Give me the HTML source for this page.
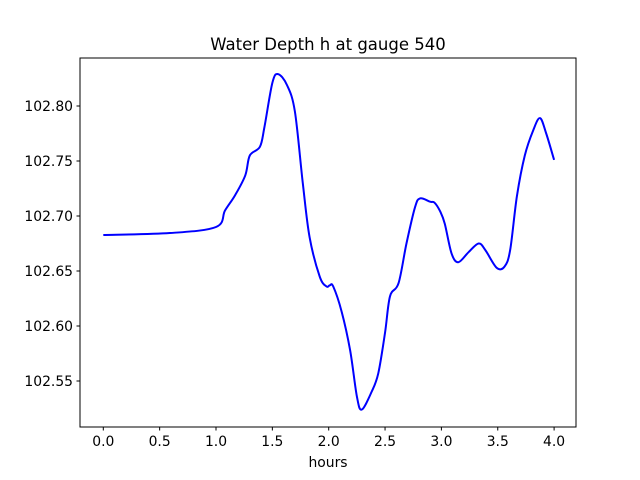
<!DOCTYPE html>
<html><head><meta charset="utf-8"><style>
html,body{margin:0;padding:0;background:#fff;}
svg{display:block;font-family:"DejaVu Sans","Liberation Sans",sans-serif;}
</style></head><body>
<svg id="chart" width="640" height="480">
<rect width="640" height="480" fill="#fff"/>
<text x="328" y="50" text-anchor="middle" font-size="16.5" fill="#000">Water Depth h at gauge 540</text>
<g id="xticks"></g>
<g id="yticks"></g>
<path id="line" fill="none" stroke="#0000ff" stroke-width="2"/>
<rect x="80" y="58" width="496" height="369" fill="none" stroke="#000" stroke-width="1"/>
<text x="328" y="467" text-anchor="middle" font-size="13.9">hours</text>
</svg>
<script>
const hours=[0,0.59,1.0,1.08,1.17,1.26,1.30,1.39,1.43,1.50,1.55,1.63,1.70,1.77,1.83,1.92,1.98,2.01,2.04,2.115,2.19,2.25,2.293,2.38,2.44,2.50,2.544,2.62,2.69,2.766,2.81,2.90,2.94,2.99,3.03,3.09,3.15,3.24,3.33,3.39,3.49,3.56,3.61,3.67,3.74,3.815,3.875,3.93,4.0];
const depth=[102.6827,102.6845,102.690,102.705,102.719,102.737,102.755,102.763,102.781,102.821,102.829,102.819,102.795,102.730,102.681,102.645,102.636,102.637,102.636,102.613,102.578,102.536,102.524,102.540,102.557,102.594,102.627,102.639,102.675,102.708,102.716,102.713,102.712,102.704,102.693,102.666,102.658,102.667,102.675,102.669,102.653,102.654,102.669,102.718,102.755,102.778,102.789,102.775,102.751];
const xTickVals=[0,0.5,1,1.5,2,2.5,3,3.5,4];
const xTickLabels=["0.0","0.5","1.0","1.5","2.0","2.5","3.0","3.5","4.0"];
const yTickVals=[102.55,102.60,102.65,102.70,102.75,102.80];
const yTickLabels=["102.55","102.60","102.65","102.70","102.75","102.80"];

const NS="http://www.w3.org/2000/svg";
function xs(t){return 103.3+t*112.7;}
function ys(v){return 106+(102.80-v)*1100;}
const xg=document.getElementById('xticks'), yg=document.getElementById('yticks');
xTickVals.forEach((t,i)=>{
  const l=document.createElementNS(NS,'line');
  l.setAttribute('x1',xs(t));l.setAttribute('x2',xs(t));l.setAttribute('y1',427);l.setAttribute('y2',430.5);l.setAttribute('stroke','#000');
  
  
  xg.appendChild(l);
  const tx=document.createElementNS(NS,'text');
  tx.setAttribute('x',xs(t));tx.setAttribute('y',446);tx.setAttribute('text-anchor','middle');tx.setAttribute('font-size','13.9');
  tx.textContent=xTickLabels[i];
  
  
  xg.appendChild(tx);
});
yTickVals.forEach((v,i)=>{
  const l=document.createElementNS(NS,'line');
  l.setAttribute('x1',76.5);l.setAttribute('x2',80);l.setAttribute('y1',ys(v));l.setAttribute('y2',ys(v));l.setAttribute('stroke','#000');
  
  
  yg.appendChild(l);
  const tx=document.createElementNS(NS,'text');
  tx.setAttribute('x',73);tx.setAttribute('y',ys(v)+5);tx.setAttribute('text-anchor','end');tx.setAttribute('font-size','13.9');
  tx.textContent=yTickLabels[i];
  
  
  yg.appendChild(tx);
});
const P=hours.map((t,i)=>[xs(t),ys(depth[i])]);
let d='M'+P[0][0]+','+P[0][1];
for(let i=0;i<P.length-1;i++){
  const p0=P[i-1]||P[i],p1=P[i],p2=P[i+1],p3=P[i+2]||P[i+1];
  const c1=[p1[0]+(p2[0]-p0[0])/6,p1[1]+(p2[1]-p0[1])/6];
  const c2=[p2[0]-(p3[0]-p1[0])/6,p2[1]-(p3[1]-p1[1])/6];
  d+=' C'+c1.join(',')+' '+c2.join(',')+' '+p2.join(',');
}
document.getElementById('line').setAttribute('d',d);
</script>
</body></html>
